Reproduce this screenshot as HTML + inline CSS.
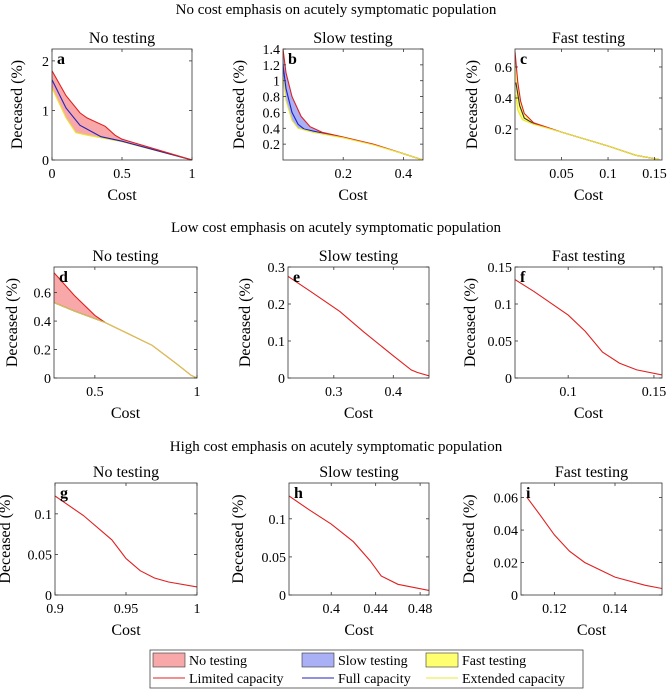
<!DOCTYPE html>
<html><head><meta charset="utf-8">
<style>
html,body{margin:0;padding:0;background:#fff;}
svg{display:block;}
svg text{font-family:"Liberation Serif","DejaVu Serif",serif;}
</style></head>
<body>
<svg id="fig" width="668" height="689" viewBox="0 0 668 689" xmlns="http://www.w3.org/2000/svg" font-family="Liberation Serif, DejaVu Serif, serif">
<text x="336" y="14" text-anchor="middle" font-size="15">No cost emphasis on acutely symptomatic population</text>
<text x="336" y="232" text-anchor="middle" font-size="15">Low cost emphasis on acutely symptomatic population</text>
<text x="336" y="451" text-anchor="middle" font-size="15">High cost emphasis on acutely symptomatic population</text>
<g id="legend">
<rect x="150" y="650" width="433" height="38" fill="#fff" stroke="#444" stroke-width="0.8"/>
<rect x="153" y="653" width="32" height="14" fill="#f8a8a8" stroke="#333" stroke-width="0.6"/>
<text x="189" y="665" font-size="14">No testing</text>
<rect x="302" y="653" width="32" height="14" fill="#aab0f5" stroke="#333" stroke-width="0.6"/>
<text x="338" y="665" font-size="14">Slow testing</text>
<rect x="426" y="653" width="32" height="14" fill="#ffff70" stroke="#333" stroke-width="0.6"/>
<text x="462" y="665" font-size="14">Fast testing</text>
<line x1="153" y1="678" x2="185" y2="678" stroke="#e02020"/>
<text x="189" y="683" font-size="14">Limited capacity</text>
<line x1="302" y1="678" x2="334" y2="678" stroke="#2020c0"/>
<text x="338" y="683" font-size="14">Full capacity</text>
<line x1="426" y1="678" x2="458" y2="678" stroke="#e8e830"/>
<text x="462" y="683" font-size="14">Extended capacity</text>
</g>
</svg>
<script>
// ---- data arrays ----
const aRedX=[0,0.1,0.2,0.25,0.38,0.45,0.5,1];
const aRedY=[1.8,1.3,0.95,0.85,0.68,0.5,0.42,0];
const aBlueX=[0,0.1,0.2,0.35,0.5,1];
const aBlueY=[1.62,1.05,0.7,0.47,0.38,0];
const aYelX=[0,0.1,0.17,0.25,0.5,1];
const aYelY=[1.45,0.85,0.55,0.5,0.37,0];
const bRedX=[0,0.01,0.03,0.06,0.09,0.13,0.2,0.3,0.4,0.465];
const bRedY=[1.4,1.1,0.8,0.55,0.42,0.35,0.29,0.2,0.08,0];
const bBlueX=[0,0.01,0.03,0.05,0.07,0.13,0.2,0.3,0.4,0.465];
const bBlueY=[1.2,0.9,0.6,0.45,0.39,0.34,0.285,0.195,0.08,0];
const bYelX=[0,0.01,0.03,0.05,0.1,0.2,0.3,0.4,0.465];
const bYelY=[1.05,0.75,0.5,0.4,0.35,0.28,0.19,0.08,0];
const cRedX=[0,0.003,0.006,0.01,0.02,0.05,0.1,0.13,0.155];
const cRedY=[0.7,0.5,0.38,0.3,0.24,0.18,0.09,0.03,0.003];
const cBlueX=[0.001,0.005,0.01,0.02,0.05,0.1,0.13,0.155];
const cBlueY=[0.5,0.35,0.27,0.235,0.18,0.09,0.03,0.003];
const cYelX=[0.001,0.003,0.008,0.02,0.05,0.1,0.13,0.155];
const cYelY=[0.42,0.32,0.26,0.23,0.18,0.09,0.03,0.003];
const dRedX=[0.3,0.4,0.5,0.55,0.78,0.9,0.97,1];
const dRedY=[0.74,0.58,0.44,0.39,0.23,0.1,0.02,0];
const dYelX=[0.3,0.4,0.55,0.78,0.9,0.97,1];
const dYelY=[0.53,0.47,0.39,0.23,0.1,0.02,0];
const eRedX=[0.223,0.26,0.31,0.35,0.4,0.43,0.44,0.46];
const eRedY=[0.275,0.235,0.18,0.125,0.06,0.022,0.015,0.006];
const fRedX=[0.069,0.08,0.1,0.11,0.12,0.13,0.14,0.155];
const fRedY=[0.133,0.117,0.085,0.063,0.035,0.02,0.011,0.004];
const gRedX=[0.9,0.92,0.94,0.95,0.96,0.97,0.98,1];
const gRedY=[0.122,0.098,0.068,0.045,0.03,0.021,0.016,0.01];
const hRedX=[0.362,0.38,0.4,0.42,0.435,0.445,0.46,0.488];
const hRedY=[0.13,0.112,0.093,0.07,0.045,0.025,0.014,0.006];
const iRedX=[0.111,0.115,0.12,0.125,0.13,0.14,0.15,0.1555];
const iRedY=[0.06,0.05,0.037,0.027,0.02,0.011,0.006,0.004];
const aXTicks=[0,0.5,1], aYTicks=[0,1,2];
const bXTicks=[0.2,0.4], bYTicks=[0.2,0.4,0.6,0.8,1,1.2,1.4];
const cXTicks=[0.05,0.1,0.15], cYTicks=[0.2,0.4,0.6];
const dXTicks=[0.5,1], dYTicks=[0,0.2,0.4,0.6];
const eXTicks=[0.3,0.4], eYTicks=[0,0.1,0.2,0.3];
const fXTicks=[0.1,0.15], fYTicks=[0,0.05,0.1,0.15];
const gXTicks=[0.9,0.95,1], gYTicks=[0,0.05,0.1];
const hXTicks=[0.4,0.44,0.48], hYTicks=[0,0.05,0.1];
const iXTicks=[0.12,0.14], iYTicks=[0,0.02,0.04,0.06];

const NS="http://www.w3.org/2000/svg";
const svg=document.getElementById('fig');
function mk(tag,attrs,parent){const e=document.createElementNS(NS,tag);for(const k in attrs)e.setAttribute(k,attrs[k]);(parent||svg).appendChild(e);return e;}
const RED="#e02020",BLUE="#2020c0",YEL="#e8e830";
function panel(o){
  const g=mk('g',{});
  
  
  const sx=v=>o.L+(v-o.x0)/(o.x1-o.x0)*(o.R-o.L);
  const sy=v=>o.B-(v-o.y0)/(o.y1-o.y0)*(o.B-o.T);
  const cp=mk('clipPath',{id:'clip'+o.id},g);
  mk('rect',{x:o.L,y:o.T,width:o.R-o.L,height:o.B-o.T},cp);
  const pg=mk('g',{'clip-path':'url(#clip'+o.id+')'},g);
  const pts=(X,Y)=>X.map((x,i)=>sx(x).toFixed(1)+','+sy(Y[i]).toFixed(1));
  (o.fills||[]).forEach(f=>{
    const p=pts(f.ux,f.uy).concat(pts(f.lx,f.ly).reverse());
    const el=mk('polygon',{points:p.join(' '),fill:f.c,stroke:'none'},pg);
    
    
  });
  (o.lines||[]).forEach(l=>{
    const el=mk('polyline',{points:pts(l.x,l.y).join(' '),fill:'none',stroke:l.c,'stroke-width':1.1},pg);
    
    
  });
  const box=mk('rect',{x:o.L,y:o.T,width:o.R-o.L,height:o.B-o.T,fill:'none',stroke:'#333','stroke-width':0.8},g);
  
  
  o.xt.forEach(t=>{const x=sx(t);
    mk('line',{x1:x,x2:x,y1:o.B,y2:o.B-3,stroke:'#333','stroke-width':0.8},g);
    mk('line',{x1:x,x2:x,y1:o.T,y2:o.T+3,stroke:'#333','stroke-width':0.8},g);
    const tx=mk('text',{x:x,y:o.B+18,'text-anchor':'middle','font-size':14},g);tx.textContent=String(t);
    
    
  });
  o.yt.forEach(t=>{const y=sy(t);
    mk('line',{x1:o.L,x2:o.L+3,y1:y,y2:y,stroke:'#333','stroke-width':0.8},g);
    mk('line',{x1:o.R,x2:o.R-3,y1:y,y2:y,stroke:'#333','stroke-width':0.8},g);
    const tx=mk('text',{x:o.L-3,y:y+5,'text-anchor':'end','font-size':14},g);tx.textContent=String(t);
    
    
  });
  const cx=(o.L+o.R)/2;
  const ti=mk('text',{x:cx,y:o.T-6,'text-anchor':'middle','font-size':16},g);ti.textContent=o.title;
  
  
  const xl=mk('text',{x:cx,y:o.B+40,'text-anchor':'middle','font-size':16},g);xl.textContent='Cost';
  
  
  const yx=o.yl,yy=(o.T+o.B)/2;
  const yl=mk('text',{x:yx,y:yy,'text-anchor':'middle','font-size':16,transform:'rotate(-90 '+yx+' '+yy+')'},g);yl.textContent='Deceased (%)';
  
  
  const lt=mk('text',{x:o.L+5,y:o.T+15,'font-size':16,'font-weight':'bold'},g);lt.textContent=o.id;
  
  
}
const R1={T:49,B:160},R2={T:267,B:378},R3={T:483,B:595};
panel({id:'a',title:'No testing',L:52,R:192,...R1,x0:0,x1:1,y0:0,y1:2.24,xt:aXTicks,yt:aYTicks,yl:22,
  fills:[{n:'no-testing',c:'#f8a8a8',ux:aRedX,uy:aRedY,lx:aYelX,ly:aYelY}],
  lines:[{n:'extended',c:YEL,x:aYelX,y:aYelY},{n:'full',c:BLUE,x:aBlueX,y:aBlueY},{n:'limited',c:RED,x:aRedX,y:aRedY}]});
panel({id:'b',title:'Slow testing',L:283,R:423,...R1,x0:0,x1:0.465,y0:0,y1:1.4,xt:bXTicks,yt:bYTicks,yl:244,
  fills:[{n:'slow-testing',c:'#aab0f5',ux:bRedX,uy:bRedY,lx:bYelX,ly:bYelY}],
  lines:[{n:'full',c:BLUE,x:bBlueX,y:bBlueY},{n:'limited',c:RED,x:bRedX,y:bRedY},{n:'extended',c:YEL,x:bYelX,y:bYelY}]});
panel({id:'c',title:'Fast testing',L:515,R:662,...R1,x0:0,x1:0.158,y0:0,y1:0.716,xt:cXTicks,yt:cYTicks,yl:477,
  fills:[{n:'fast-testing',c:'#ffff70',ux:cRedX,uy:cRedY,lx:cYelX,ly:cYelY}],
  lines:[{n:'full',c:'#333',x:cBlueX,y:cBlueY},{n:'limited',c:RED,x:cRedX,y:cRedY},{n:'extended',c:YEL,x:cYelX,y:cYelY}]});
panel({id:'d',title:'No testing',L:54,R:197,...R2,x0:0.3,x1:1,y0:0,y1:0.78,xt:dXTicks,yt:dYTicks,yl:17,
  fills:[{n:'no-testing',c:'#f8a8a8',ux:dRedX,uy:dRedY,lx:dYelX,ly:dYelY}],
  lines:[{n:'limited',c:RED,x:dRedX,y:dRedY},{n:'full',c:'#333',x:dYelX.slice(0,3),y:dYelY.slice(0,3)},{n:'extended',c:'#d8c850',x:dYelX,y:dYelY}]});
panel({id:'e',title:'Slow testing',L:288,R:429,...R2,x0:0.223,x1:0.46,y0:0,y1:0.3,xt:eXTicks,yt:eYTicks,yl:250,
  lines:[{n:'limited',c:RED,x:eRedX,y:eRedY}]});
panel({id:'f',title:'Fast testing',L:515,R:662,...R2,x0:0.069,x1:0.1547,y0:0,y1:0.15,xt:fXTicks,yt:fYTicks,yl:475,
  lines:[{n:'limited',c:RED,x:fRedX,y:fRedY}]});
panel({id:'g',title:'No testing',L:55,R:197,...R3,x0:0.9,x1:1,y0:0,y1:0.138,xt:gXTicks,yt:gYTicks,yl:10,
  lines:[{n:'limited',c:RED,x:gRedX,y:gRedY}]});
panel({id:'h',title:'Slow testing',L:289,R:429,...R3,x0:0.362,x1:0.488,y0:0,y1:0.147,xt:hXTicks,yt:hYTicks,yl:243,
  lines:[{n:'limited',c:RED,x:hRedX,y:hRedY}]});
panel({id:'i',title:'Fast testing',L:521,R:662,...R3,x0:0.109,x1:0.1555,y0:0,y1:0.069,xt:iXTicks,yt:iYTicks,yl:474,
  lines:[{n:'limited',c:RED,x:iRedX,y:iRedY}]});
</script>
</body></html>
